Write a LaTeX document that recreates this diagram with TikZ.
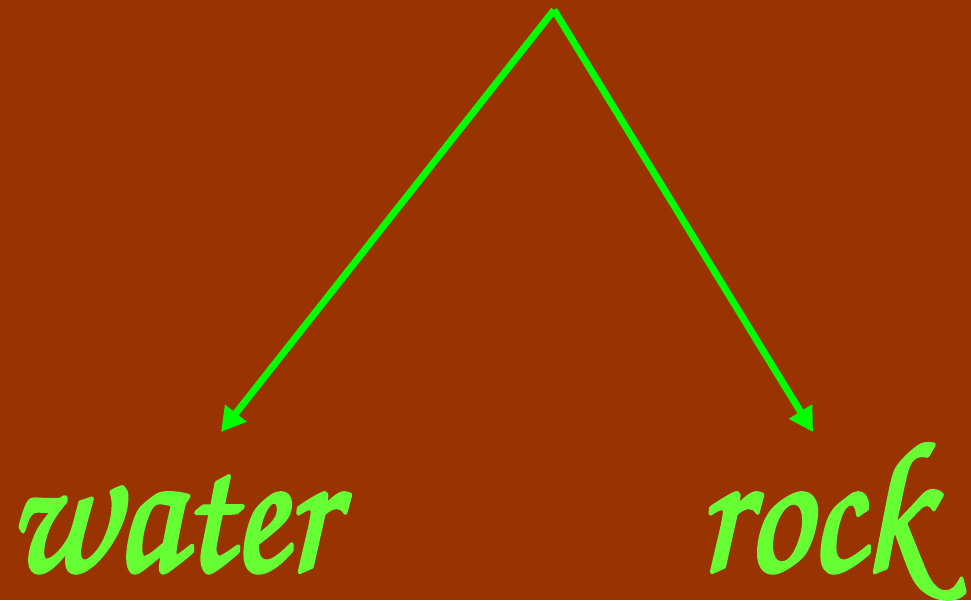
\documentclass[tikz,border=0pt]{standalone}
\usepackage[T1]{fontenc}
\usetikzlibrary{arrows.meta, positioning}
\definecolor{bgBrown}{HTML}{993300}
\definecolor{arrGreen}{HTML}{00FF00}
\definecolor{txtGreen}{HTML}{66FF33}
% heavier strokes for the script letters
\newcommand{\heavyword}[1]{\special{pdf:literal direct 2 Tr 1.3 w 1 j}#1\special{pdf:literal direct 0 Tr}}
\tikzset{
  branch/.style  = {-{Triangle[length=2.4mm, width=2.6mm]}, arrGreen, line width=0.07cm},
  word/.style    = {txtGreen, inner sep=0pt, anchor=base west, transform shape, xscale=0.85,
                    font=\fontfamily{pzc}\fontseries{m}\fontshape{it}\fontsize{53}{53}\selectfont},
}

\begin{document}
\begin{tikzpicture}[x=0.01cm, y=-0.01cm]
% background, fixes the page
\fill[bgBrown] (0,0) rectangle (971,600);
\useasboundingbox (0,0) rectangle (971,600);
% the fork
\coordinate (apex) at (554,10);
\coordinate (wtip) at (221,432);
\coordinate (rtip) at (813,432);
\draw[branch] (apex) -- (wtip);
\draw[branch] (apex) -- (rtip);
% labels
\node[word] (water) at (6,570) {\heavyword{water}};
\node[word] (rock) at (697,570) {\heavyword{rock}};
\end{tikzpicture}
\end{document}
